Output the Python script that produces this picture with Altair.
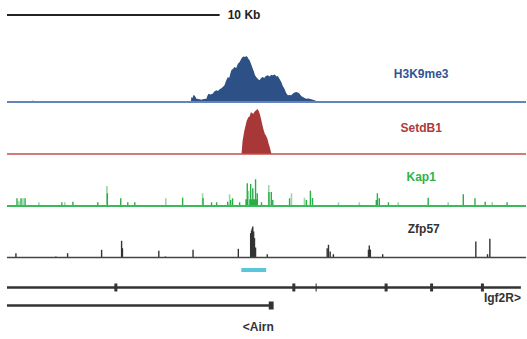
import altair as alt
import pandas as pd

# ---------------- data (x positions in kb from the left end of the window) ----------------
SCALE_BAR_KB = [0.0, 10.0]
SCALE_LABEL = "10 Kb"

H3K9_KB = [8.65, 8.67, 8.72, 8.78, 8.84, 8.91, 9.00, 9.14, 9.25, 9.38, 9.42, 9.48, 9.57, 9.67,
           9.75, 9.85, 9.92, 10.00, 10.10, 10.23, 10.30, 10.39, 10.45, 10.55, 10.62, 10.70,
           10.78, 10.86, 10.94, 11.02, 11.08, 11.13, 11.20, 11.25, 11.31, 11.36, 11.41, 11.48,
           11.56, 11.62, 11.66, 11.72, 11.80, 11.88, 11.95, 12.03, 12.10, 12.17, 12.27, 12.35,
           12.42, 12.50, 12.60, 12.67, 12.74, 12.82, 12.90, 12.97, 13.05, 13.13, 13.21, 13.30,
           13.37, 13.45, 13.53, 13.60, 13.68, 13.76, 13.84, 13.91, 14.00, 14.07, 14.15, 14.23,
           14.35, 14.46, 14.55, 14.62]
H3K9_VAL = [0, 5, 4, 7.3, 6, 3.3, 3, 2.3, 3, 3.3, 6, 8.3, 7.5, 8.3,
            10.5, 11.7, 11, 12.7, 14, 16.7, 21, 25, 24, 31.7, 33, 35,
            34, 38.3, 40, 43.3, 45, 45.5, 45, 46, 45, 43, 41.7, 38,
            33.3, 30, 27, 25, 23, 21.7, 24, 25, 24, 26, 26.7, 25.5,
            27, 26.7, 27.5, 25.5, 26, 23, 20, 16, 13.3, 9, 6.7, 7,
            6.7, 8.5, 9.5, 10, 9.5, 8.3, 6, 5, 4, 3.3, 3.5, 3.3,
            2.5, 1.7, 1, 0]
H3K9_BLIP_KB = [1.22]
H3K9_BLIP_VAL = [1.2]

SETDB1_KB = [11.03, 11.08, 11.16, 11.27, 11.35, 11.41, 11.47, 11.53, 11.58, 11.63, 11.69,
             11.78, 11.84, 11.89, 11.95, 12.00, 12.07, 12.13, 12.19, 12.25, 12.31, 12.36, 12.44]
SETDB1_VAL = [0, 13, 23, 33, 36.7, 37.5, 41.7, 41, 40, 42, 43.3,
              45, 43, 40, 35, 30, 24, 20, 18, 15, 10, 6.7, 0]

KAP1_KB = [0.47, 0.56, 0.66, 0.75, 0.85, 1.50, 2.58, 2.72, 3.10, 4.27, 4.70, 4.72, 5.35, 5.68,
           6.01, 7.47, 8.26, 9.20, 9.22, 9.62, 9.86, 10.38, 10.47, 10.52, 10.61, 10.94,
           11.30, 11.36, 11.46, 11.56, 11.69, 11.77, 11.97, 12.31, 12.32, 12.43, 12.50,
           13.29, 13.38, 13.99, 14.08, 14.27, 14.37, 15.59, 16.57, 17.37, 17.42, 17.51,
           17.94, 18.40, 19.81, 20.75, 21.46, 22.01, 22.49, 22.82, 23.52]
KAP1_VAL = [7.7, 5, 7.7, 7.7, 7.7, 3.7, 3.7, 3.7, 4.3, 3.7, 20, 12.7, 7.7, 3.7,
            3.7, 7.7, 8.3, 12.7, 8, 3.7, 3.7, 4.3, 11.7, 6, 7.7, 3.7,
            22.7, 15, 22, 17.7, 26.7, 12.7, 3.7, 21, 14, 14, 6,
            7.7, 12.7, 8.3, 6, 15.3, 8, 3.7, 3.7, 6, 12.7, 7.7,
            3.7, 3.7, 8.3, 3.7, 11.7, 7.7, 4.3, 3.7, 3.7]
KAP1_LIGHT = [0, 1, 0, 1, 0, 1, 0, 1, 0, 0, 1, 0, 0, 0,
              0, 1, 0, 1, 0, 0, 0, 0, 1, 0, 0, 0,
              0, 1, 0, 0, 0, 0, 0, 1, 0, 0, 0,
              0, 1, 1, 0, 0, 0, 1, 1, 0, 0, 0,
              0, 1, 0, 1, 0, 0, 0, 1, 0]
KAP1_BLOCK_KB = [11.21, 11.80]
KAP1_BLOCK_VAL = 6.7

ZFP57_KB = [0.42, 2.30, 2.85, 4.45, 5.39, 5.43, 7.14, 7.45, 8.75, 10.88,
            11.46, 11.50, 11.53, 11.56, 11.60, 11.64, 11.69, 12.24,
            15.06, 15.12, 15.20, 15.35, 17.00, 17.04, 17.09, 17.67, 22.05, 22.60, 22.71]
ZFP57_VAL = [4.3, 1, 4.3, 7.7, 16.7, 9.3, 6.7, 1, 7.7, 8.7,
             24.3, 27, 29, 31, 26, 19.4, 10, 3.3,
             9.3, 12.7, 6, 3.3, 7.7, 12, 8, 3.3, 16, 3.3, 18.7]

CYAN_KB = [11.02, 12.19]

IGF2R_SPAN_KB = [0.0, 24.17]
IGF2R_EXON_KB = [5.12, 13.49, 14.54, 17.83, 19.97, 22.36]
IGF2R_EXON_W = [0.07, 0.07, 0.025, 0.07, 0.07, 0.07]
AIRN_SPAN_KB = [0.0, 12.45]
AIRN_EXON_KB = [12.31, 12.54]

TRACKS = ["H3K9me3", "SetdB1", "Kap1", "Zfp57"]
TRACK_COLORS = ["#2d5087", "#a83838", "#27ae47", "#333333"]
LINE_COLORS = ["#6284bd", "#c0504d", "#3cb95a", "#444444"]
LABEL_COLORS = ["#2f5597", "#b03a3a", "#2db34a", "#333333"]

# ---------------- layout (vertical layout units, top = 0) ----------------
TRACK_BASE = [102, 154, 206, 257.5]
LABEL_Y = [74, 128, 177, 228.5]
LABEL_KB = [19.48, 19.48, 19.48, 19.60]
SCALE_Y = 15
CYAN_Y = [268, 272]
IGF2R_Y = 287.5
AIRN_Y = 305.5
FONT = "Liberation Sans"

X = alt.Scale(domain=[-0.329, 24.41], nice=False, zero=False)
Y = alt.Scale(domain=[0, 339], nice=False, zero=False, reverse=True)


def xenc(f="kb"):
    return alt.X(f"{f}:Q", scale=X, axis=None)


def yenc(f="y"):
    return alt.Y(f"{f}:Q", scale=Y, axis=None)


def hline(x0, x1, y, color, w):
    df = pd.DataFrame({"a": [x0], "b": [x1], "y": [y]})
    return alt.Chart(df).mark_rule(color=color, strokeWidth=w).encode(
        x=xenc("a"), x2="b:Q", y=yenc("y"))


def rect(x0, x1, y0, y1, color):
    df = pd.DataFrame({"a": [x0], "b": [x1], "y0": [y0], "y1": [y1]})
    return alt.Chart(df).mark_rect(color=color).encode(
        x=xenc("a"), x2="b:Q", y=yenc("y0"), y2="y1:Q")


def area(kb, val, base, color):
    df = pd.DataFrame({"kb": kb, "val": val})
    return alt.Chart(df).transform_calculate(
        top=f"{base} - datum.val", base=f"{base}"
    ).mark_area(color=color, interpolate="linear").encode(
        x=xenc(), y=yenc("top"), y2="base:Q")


def spikes(kb, val, base, color, w=1.4):
    df = pd.DataFrame({"kb": kb, "val": val})
    return alt.Chart(df).transform_calculate(
        top=f"{base} - datum.val", base=f"{base}"
    ).mark_rule(color=color, strokeWidth=w).encode(
        x=xenc(), y=yenc("top"), y2="base:Q")


def text(label, kb, y, color, align="center", size=12):
    df = pd.DataFrame({"kb": [kb], "y": [y], "t": [label]})
    return alt.Chart(df).mark_text(
        font=FONT, fontSize=size, fontWeight="bold", color=color,
        align=align, baseline="middle").encode(x=xenc(), y=yenc("y"), text="t:N")


layers = []
# scale bar
layers.append(hline(SCALE_BAR_KB[0], SCALE_BAR_KB[1], SCALE_Y, "#222222", 2))
layers.append(text(SCALE_LABEL, 10.38, SCALE_Y, "#222222", align="left"))

# H3K9me3
layers.append(area(H3K9_KB, H3K9_VAL, TRACK_BASE[0], TRACK_COLORS[0]))
layers.append(spikes(H3K9_BLIP_KB, H3K9_BLIP_VAL, TRACK_BASE[0], TRACK_COLORS[0], 2))
layers.append(hline(0, 24.41, TRACK_BASE[0], LINE_COLORS[0], 2))

# SetdB1
layers.append(area(SETDB1_KB, SETDB1_VAL, TRACK_BASE[1], TRACK_COLORS[1]))
layers.append(hline(0, 24.41, TRACK_BASE[1], LINE_COLORS[1], 1.6))

# Kap1
kap = pd.DataFrame({"kb": KAP1_KB, "val": KAP1_VAL, "light": KAP1_LIGHT})
layers.append(rect(KAP1_BLOCK_KB[0], KAP1_BLOCK_KB[1], TRACK_BASE[2] - KAP1_BLOCK_VAL,
                   TRACK_BASE[2], TRACK_COLORS[2]))
light = kap[kap.light == 1]
dark = kap[kap.light == 0]
layers.append(spikes(list(light.kb), list(light.val), TRACK_BASE[2], "#9ad6a6", 1.6))
layers.append(spikes(list(dark.kb), list(dark.val), TRACK_BASE[2], TRACK_COLORS[2], 1.4))
layers.append(hline(0, 24.41, TRACK_BASE[2], LINE_COLORS[2], 2))

# Zfp57
layers.append(spikes(ZFP57_KB, ZFP57_VAL, TRACK_BASE[3], TRACK_COLORS[3], 1.4))
layers.append(hline(0, 24.41, TRACK_BASE[3], LINE_COLORS[3], 1.6))

# track labels
for i, name in enumerate(TRACKS):
    layers.append(text(name, LABEL_KB[i], LABEL_Y[i], LABEL_COLORS[i]))

# cyan region
layers.append(rect(CYAN_KB[0], CYAN_KB[1], CYAN_Y[0], CYAN_Y[1], "#5bc5dc"))

# Igf2R gene
layers.append(hline(IGF2R_SPAN_KB[0], IGF2R_SPAN_KB[1], IGF2R_Y, "#333333", 2.5))
for kb, w in zip(IGF2R_EXON_KB, IGF2R_EXON_W):
    layers.append(rect(kb - w, kb + w, IGF2R_Y - 4, IGF2R_Y + 4, "#333333"))
layers.append(text("Igf2R>", 24.17, 298, "#333333", align="right"))

# Airn gene
layers.append(hline(AIRN_SPAN_KB[0], AIRN_SPAN_KB[1], AIRN_Y, "#333333", 2.5))
layers.append(rect(AIRN_EXON_KB[0], AIRN_EXON_KB[1], AIRN_Y - 4, AIRN_Y + 4, "#333333"))
layers.append(text("<Airn", 11.09, 327, "#333333", align="left"))

chart = alt.layer(*layers).properties(
    width=527, height=339, padding=0,
    autosize=alt.AutoSizeParams(type="fit", contains="padding"),
    background="white",
).configure_view(stroke=None)

chart.save("out.html", embed_options={"renderer": "svg", "actions": False})
